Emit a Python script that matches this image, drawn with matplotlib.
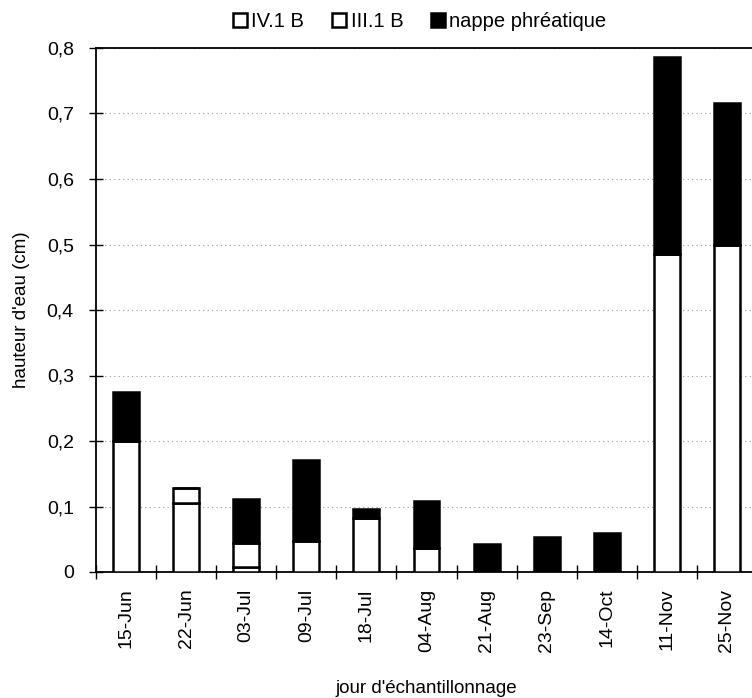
import numpy as np
import matplotlib.pyplot as plt
from matplotlib.ticker import FuncFormatter

plt.rcParams['font.family'] = ['Liberation Sans', 'DejaVu Sans']

# Données
dates = ['15-Jun', '22-Jun', '03-Jul', '09-Jul', '18-Jul', '04-Aug',
         '21-Aug', '23-Sep', '14-Oct', '11-Nov', '25-Nov']
iv1b = [0.200, 0.105, 0.007, 0.047, 0.082, 0.037, 0.0, 0.0, 0.0, 0.485, 0.500]
iii1b = [0.0, 0.023, 0.037, 0.0, 0.0, 0.0, 0.0, 0.0, 0.0, 0.0, 0.0]
nappe = [0.075, 0.0, 0.068, 0.124, 0.014, 0.071, 0.043, 0.053, 0.059, 0.302, 0.216]

x = np.arange(len(dates))
iv1b = np.array(iv1b)
iii1b = np.array(iii1b)
nappe = np.array(nappe)

fig = plt.figure(figsize=(7.52, 6.98), dpi=100)
ax = fig.add_axes([96/752, 126/698, 661/752, 524/698])

w = 0.43
ax.bar(x, iv1b, w, color='white', edgecolor='black', linewidth=1.8, label='IV.1 B', zorder=3)
ax.bar(x, iii1b, w, bottom=iv1b, color='white', edgecolor='black', linewidth=1.8, label='III.1 B', zorder=3)
ax.bar(x, nappe, w, bottom=iv1b + iii1b, color='black', edgecolor='black', linewidth=1.8,
       label='nappe phréatique', zorder=3)

ax.set_xlim(-0.5, len(dates) - 0.5)
ax.set_ylim(0, 0.8)
ax.set_yticks(np.arange(0, 0.81, 0.1))
ax.yaxis.set_major_formatter(FuncFormatter(lambda v, p: '0' if abs(v) < 1e-9 else f'{v:.1f}'.replace('.', ',')))
ax.tick_params(axis='y', direction='inout', length=10, width=1, labelsize=14, pad=11)

ax.set_xticks(x)
ax.set_xticklabels(dates, rotation=90, fontsize=14)
ax.set_xticks(np.arange(-0.5, len(dates), 1), minor=True)
ax.tick_params(axis='x', which='major', length=0, pad=12)
ax.tick_params(axis='x', which='minor', direction='inout', length=10, width=1)

ax.grid(axis='y', linestyle=(0, (1, 3)), color='#999999', linewidth=0.8, zorder=0)
for s in ['left', 'bottom', 'top']:
    ax.spines[s].set_linewidth(1.3)
ax.spines['right'].set_visible(False)

ax.set_ylabel("hauteur d'eau (cm)", fontsize=13.5, labelpad=12)
ax.set_xlabel("jour d'échantillonnage", fontsize=13.5, labelpad=20)

ax.legend(loc='lower center', bbox_to_anchor=(0.49, 1.01), ncol=3, frameon=False,
          fontsize=14.5, handlelength=0.7, handleheight=0.7, handletextpad=0.2,
          columnspacing=1.4, borderaxespad=0.2)

fig.savefig('out.png', dpi=100)
